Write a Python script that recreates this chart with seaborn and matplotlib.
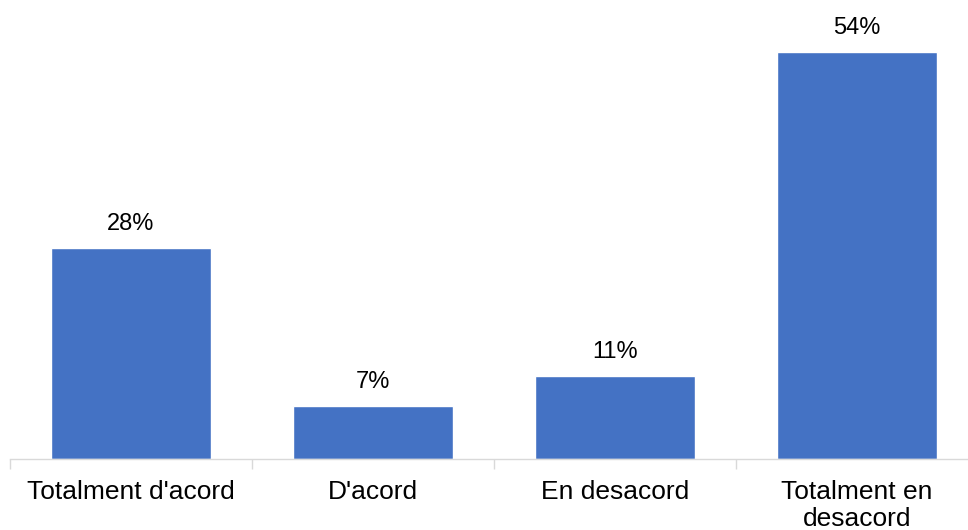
import seaborn as sns
import matplotlib.pyplot as plt
import pandas as pd

# categorias e percentagens
categorias = ["Totalment d'acord", "D'acord", "En desacord", "Totalment en\ndesacord"]
valores = [28, 7, 11, 54]
rotulos = ["28%", "7%", "11%", "54%"]

df = pd.DataFrame({"categoria": categorias, "valor": valores})

sns.set_style("white")
plt.rcParams['font.family'] = ['Liberation Sans', 'DejaVu Sans']

fig = plt.figure(figsize=(9.68, 5.30), dpi=100)
ax = fig.add_axes([10 / 968, 1 - 459 / 530, 968 / 968, 452 / 530])

sns.barplot(data=df, x="categoria", y="valor", color="#4472C4", width=0.66,
            saturation=1, ax=ax)

for i, (v, r) in enumerate(zip(valores, rotulos)):
    ax.text(i, v + 1.7, r, ha="center", va="bottom", fontsize=17, color="#000000")

ax.set_ylim(0, 60)
ax.set_xlim(-0.5, 3.5)
ax.set_xlabel("")
ax.set_ylabel("")
ax.set_yticks([])
for s in ["top", "right", "left"]:
    ax.spines[s].set_visible(False)
ax.spines["bottom"].set_color("#d9d9d9")
ax.spines["bottom"].set_linewidth(1)

# marcas entre categorias
ax.set_xticks([-0.5, 0.5, 1.5, 2.5, 3.5])
ax.set_xticklabels([])
ax.set_xticks([0, 1, 2, 3], minor=True)
ax.set_xticklabels(categorias, minor=True, fontsize=19, linespacing=1.15, color="#000000")
ax.tick_params(axis="x", which="major", length=7, width=1, color="#d9d9d9", bottom=True)
ax.tick_params(axis="x", which="minor", length=0, pad=15)

fig.savefig("out.png", dpi=100)
